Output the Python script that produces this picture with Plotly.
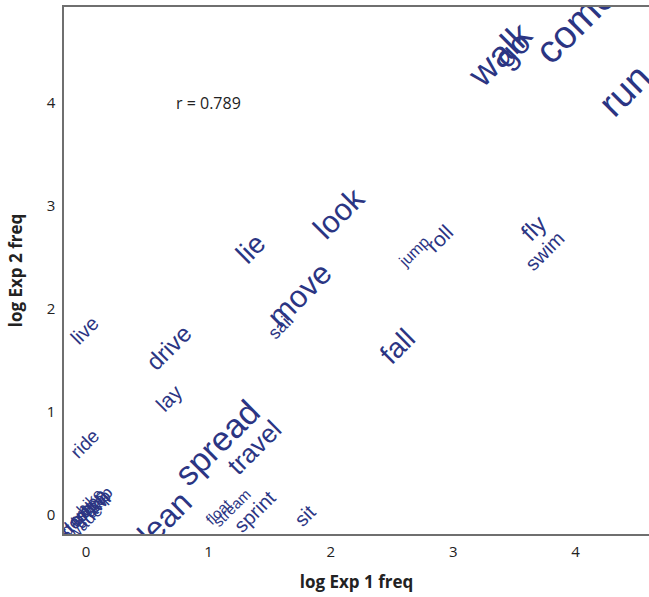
import plotly.graph_objects as go

words = ["walk", "go", "come", "run", "lie", "look", "move", "sail", "jump", "roll",
         "fly", "swim", "fall", "live", "drive", "lay", "ride", "spread", "travel",
         "lean", "float", "stream", "sprint", "sit",
         "creep", "dash", "hop", "trot", "crawl", "step", "skip", "wade", "hike"]
exp1_log = [3.40, 3.50, 4.02, 4.42, 1.36, 2.08, 1.76, 1.60, 2.69, 2.90,
            3.67, 3.76, 2.56, 0.00, 0.69, 0.69, 0.00, 1.09, 1.39,
            0.66, 1.09, 1.20, 1.39, 1.80,
            0.02, -0.06, 0.12, -0.02, 0.06, -0.10, 0.10, 0.00, 0.04]
exp2_log = [4.45, 4.50, 4.75, 4.10, 2.57, 2.91, 2.12, 1.82, 2.55, 2.67,
            2.77, 2.55, 1.62, 1.78, 1.61, 1.12, 0.68, 0.68, 0.64,
            -0.05, 0.02, 0.06, 0.02, -0.02,
            0.06, -0.05, 0.14, 0.00, 0.03, -0.10, 0.10, -0.08, 0.12]
word_sizes = [36, 32, 39, 38, 28, 31, 31, 18, 16, 21,
              24, 20, 28, 20, 24, 21, 19, 34, 26,
              32, 15, 15, 20, 20,
              18, 18, 17, 18, 18, 17, 17, 17, 16]
r_label = "r = 0.789"
x_ticks = [0, 1, 2, 3, 4]
y_ticks = [0, 1, 2, 3, 4]

word_color = "#2b3583"

fig = go.Figure()
fig.add_trace(go.Scatter(
    x=exp1_log, y=exp2_log, mode="text", text=words,
    textposition="middle center", cliponaxis=True,
    textfont=dict(family="Liberation Sans, Arial, sans-serif", size=word_sizes,
                  color=word_color),
    hoverinfo="skip", showlegend=False))

fig.add_annotation(x=1.0, y=4.0, xref="x", yref="y", text=r_label, showarrow=False,
                   xanchor="center", yanchor="middle",
                   font=dict(family="Open Sans, sans-serif", size=16, color="#222222"))

fig.update_layout(
    width=649, height=597,
    margin=dict(l=64, r=0, t=7, b=63, autoexpand=False),
    plot_bgcolor="white", paper_bgcolor="white",
    font=dict(family="Open Sans, sans-serif", size=15, color="#222222"),
    xaxis=dict(range=[-0.18, 4.60], tickvals=x_ticks, showgrid=False, zeroline=False,
               showline=True, linecolor="#6f6f6f", linewidth=1.5, mirror=True,
               ticks="", ticklabelstandoff=3, automargin=False,
               title=dict(text="<b>log Exp 1 freq</b>", font=dict(size=17), standoff=16)),
    yaxis=dict(range=[-0.184, 4.932], tickvals=y_ticks, showgrid=False, zeroline=False,
               showline=True, linecolor="#6f6f6f", linewidth=1.5, mirror=True,
               ticks="", ticklabelstandoff=4, automargin=False,
               title=dict(text="<b>log Exp 2 freq</b>", font=dict(size=17), standoff=20)),
)

# remove page margin/scrollbars, then rotate the (axis-clipped) word labels by 45 degrees
# about their data points
rotate_js = """
document.body.style.margin = '0';
document.documentElement.style.overflow = 'hidden';
document.body.style.overflow = 'hidden';
var gd = document.getElementById('{plot_id}');
function rot() {
  gd.querySelectorAll('g.textpoint text').forEach(function (t) {
    var x = parseFloat(t.getAttribute('x'));
    var y = parseFloat(t.getAttribute('y'));
    var fs = parseFloat(t.style.fontSize) || 12;
    t.setAttribute('transform', 'rotate(-45 ' + x + ' ' + (y - 0.25 * fs) + ')');
  });
}
rot();
gd.on('plotly_afterplot', rot);
"""

fig.write_html("out.html", post_script=rotate_js,
               config={"displayModeBar": False, "responsive": False})
